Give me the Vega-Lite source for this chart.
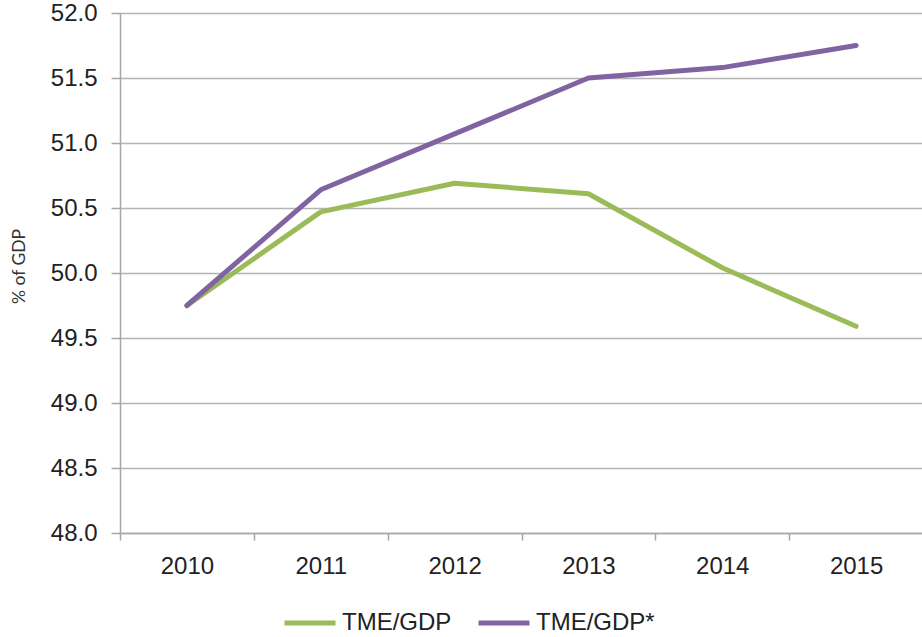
{
  "$schema": "https://vega.github.io/schema/vega-lite/v6.json",
  "width": 803,
  "height": 520,
  "autosize": {"type": "none"},
  "padding": {"left": 120, "top": 13, "right": 0, "bottom": 104},
  "background": "white",
  "config": {
    "view": {"stroke": null},
    "font": "Liberation Sans"
  },
  "data": {
    "values": [
      {"year": "2010", "series": "TME/GDP", "value": 49.75},
      {"year": "2011", "series": "TME/GDP", "value": 50.47},
      {"year": "2012", "series": "TME/GDP", "value": 50.69},
      {"year": "2013", "series": "TME/GDP", "value": 50.61},
      {"year": "2014", "series": "TME/GDP", "value": 50.04},
      {"year": "2015", "series": "TME/GDP", "value": 49.59},
      {"year": "2010", "series": "TME/GDP*", "value": 49.75},
      {"year": "2011", "series": "TME/GDP*", "value": 50.64},
      {"year": "2012", "series": "TME/GDP*", "value": 51.07},
      {"year": "2013", "series": "TME/GDP*", "value": 51.50},
      {"year": "2014", "series": "TME/GDP*", "value": 51.58},
      {"year": "2015", "series": "TME/GDP*", "value": 51.75}
    ]
  },
  "mark": {"type": "line", "strokeWidth": 5, "strokeCap": "round", "strokeJoin": "round"},
  "encoding": {
    "x": {
      "field": "year",
      "type": "ordinal",
      "scale": {"type": "band", "paddingInner": 0, "paddingOuter": 0},
      "axis": {
        "title": null,
        "labelAngle": 0,
        "labelFont": "Liberation Sans",
        "labelFontSize": 24,
        "labelColor": "#222222",
        "labelPadding": 14,
        "tickBand": "extent",
        "tickSize": 7,
        "tickColor": "#a6a6a6",
        "tickWidth": 1.5,
        "domainColor": "#a6a6a6",
        "domainWidth": 1.5,
        "grid": false
      }
    },
    "y": {
      "field": "value",
      "type": "quantitative",
      "scale": {"domain": [48, 52], "nice": false, "zero": false},
      "axis": {
        "title": "% of GDP",
        "titleFont": "Lato",
        "titleFontWeight": "normal",
        "titleFontSize": 17.5,
        "titleColor": "#333333",
        "titlePadding": 22,
        "titleY": 253,
        "values": [48, 48.5, 49, 49.5, 50, 50.5, 51, 51.5, 52],
        "format": ".1f",
        "labelFont": "Liberation Sans",
        "labelFontSize": 24,
        "labelColor": "#222222",
        "labelPadding": 14,
        "tickSize": 9,
        "tickColor": "#a6a6a6",
        "tickWidth": 1.5,
        "domainColor": "#a6a6a6",
        "domainWidth": 1.5,
        "grid": true,
        "gridColor": "#b3b3b3",
        "gridWidth": 1.5
      }
    },
    "color": {
      "field": "series",
      "type": "nominal",
      "scale": {"domain": ["TME/GDP", "TME/GDP*"], "range": ["#9bbb59", "#8064a2"]},
      "legend": {
        "title": null,
        "orient": "none",
        "direction": "horizontal",
        "legendX": 162,
        "legendY": 582,
        "padding": 0,
        "symbolType": "stroke",
        "symbolSize": 2601,
        "symbolStrokeWidth": 5,
        "labelFont": "Liberation Sans",
        "labelFontSize": 24,
        "labelColor": "#222222",
        "labelOffset": 4,
        "columnPadding": 16
      }
    }
  }
}
